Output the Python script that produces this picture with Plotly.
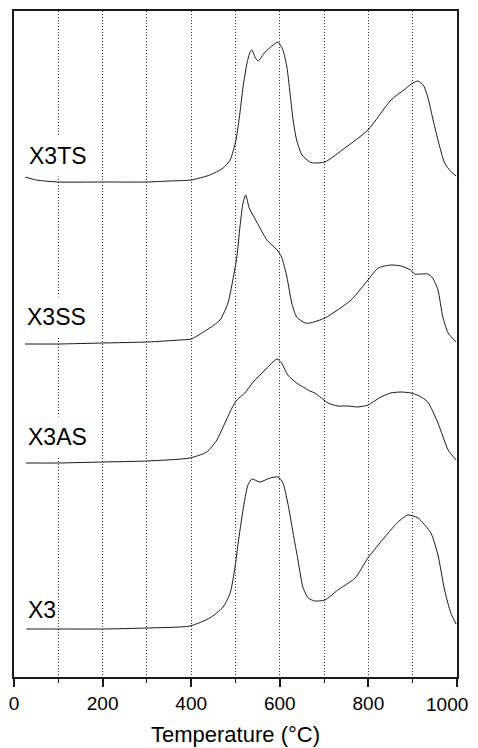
import plotly.graph_objects as go

# Temperature (°C) and signal (arbitrary units, stacked) for each sample
t_x3ts = [25, 50, 100, 200, 300, 350, 400, 442, 472, 488, 501, 510, 517, 526, 533, 537, 544, 551, 567, 585, 596, 607, 616, 623, 630, 638, 650, 668, 679, 702, 747, 799, 851, 880, 900, 912, 925, 934, 945, 957, 972, 985, 998]
y_x3ts = [500, 497, 495, 495, 495, 496, 497, 502, 509, 517, 537, 564, 590, 614, 625, 627, 620, 616, 625, 632, 635, 627, 610, 584, 557, 537, 522, 515, 514, 515, 529, 547, 577, 587, 594, 596, 591, 580, 559, 537, 514, 506, 501]

t_x3ss = [25, 100, 200, 300, 375, 400, 435, 465, 483, 494, 503, 510, 517, 523, 531, 548, 571, 594, 604, 616, 627, 638, 657, 668, 702, 761, 799, 822, 851, 874, 895, 905, 934, 945, 957, 968, 980, 998]
y_x3ss = [333, 333, 334, 335, 337, 338, 347, 357, 374, 397, 420, 450, 474, 482, 469, 455, 437, 427, 420, 400, 374, 360, 354, 354, 359, 377, 397, 409, 412, 411, 407, 403, 403, 399, 387, 360, 344, 335]

t_x3as = [27, 100, 200, 300, 397, 435, 458, 472, 492, 503, 521, 540, 562, 582, 594, 604, 618, 638, 668, 679, 709, 731, 754, 776, 799, 828, 850, 874, 896, 915, 934, 957, 980, 998]
y_x3as = [214, 214, 215, 216, 219, 225, 237, 250, 269, 277, 284, 295, 305, 314, 318, 314, 302, 294, 286, 284, 274, 271, 271, 270, 272, 280, 284, 285, 284, 281, 275, 254, 227, 217]

t_x3 = [28, 100, 200, 300, 397, 442, 472, 488, 499, 506, 517, 528, 537, 555, 578, 596, 607, 618, 630, 641, 652, 664, 679, 702, 731, 770, 799, 837, 867, 889, 912, 941, 957, 972, 986, 998]
y_x3 = [48, 48, 48, 49, 51, 59, 70, 84, 110, 134, 167, 192, 198, 195, 199, 200, 194, 174, 144, 117, 90, 79, 76, 77, 87, 99, 119, 140, 155, 162, 159, 144, 122, 87, 64, 53]

series_names = ["X3TS", "X3SS", "X3AS", "X3"]
label_y = [521, 360, 240, 67]
label_x = [16, 11, 13, 27]

x_ticks = [0, 200, 400, 600, 800, 1000]
x_title = "Temperature (°C)"

FONT = "Liberation Sans, Arial, sans-serif"
INK = "#1a1a1a"
GRID = "#333333"

fig = go.Figure()
for t, y in [(t_x3ts, y_x3ts), (t_x3ss, y_x3ss), (t_x3as, y_x3as), (t_x3, y_x3)]:
    fig.add_trace(go.Scatter(x=t, y=y, mode="lines", line=dict(color=INK, width=1, shape="spline", smoothing=0.6),
                             showlegend=False, hoverinfo="skip"))

pads = [7, 7, 7, 1]
for name, lx, ly, pad in zip(series_names, label_x, label_y, pads):
    fig.add_annotation(x=lx, y=ly, text=name, showarrow=False, xanchor="left", yanchor="middle",
                       font=dict(family=FONT, size=23, color="black"),
                       bgcolor="white", borderpad=pad)

# last tick label kept inside the page like the reference
fig.add_annotation(x=1000, y=0, yref="y", text="1000", showarrow=False, xanchor="center", yanchor="top",
                   xshift=-10, yshift=-15, font=dict(family=FONT, size=19, color="black"))

fig.update_layout(
    width=470, height=740,
    margin=dict(l=6, r=21, t=3, b=71),
    paper_bgcolor="white", plot_bgcolor="white",
    font=dict(family=FONT, color="black"),
    xaxis=dict(range=[0, 1000], tickvals=x_ticks, ticktext=[str(v) if v != 1000 else "" for v in x_ticks],
               ticks="outside", ticklen=8, tickwidth=1.5, tickcolor=INK, automargin=False,
               tickfont=dict(family=FONT, size=19, color="black"),
               showline=True, linecolor=INK, linewidth=2, mirror=True,
               showgrid=True, gridcolor=GRID, gridwidth=1, griddash="1px,2px",
               minor=dict(dtick=100, ticks="outside", ticklen=4, tickwidth=1.2, tickcolor=INK,
                          showgrid=True, gridcolor=GRID, gridwidth=1, griddash="1px,2px"),
               zeroline=False,
               title=dict(text=x_title, font=dict(family=FONT, size=22, color="black"), standoff=14)),
    yaxis=dict(range=[0, 666], showticklabels=False, ticks="", showgrid=False, zeroline=False, automargin=False,
               showline=True, linecolor=INK, linewidth=2, mirror=True),
)

fig.write_html("out.html")
